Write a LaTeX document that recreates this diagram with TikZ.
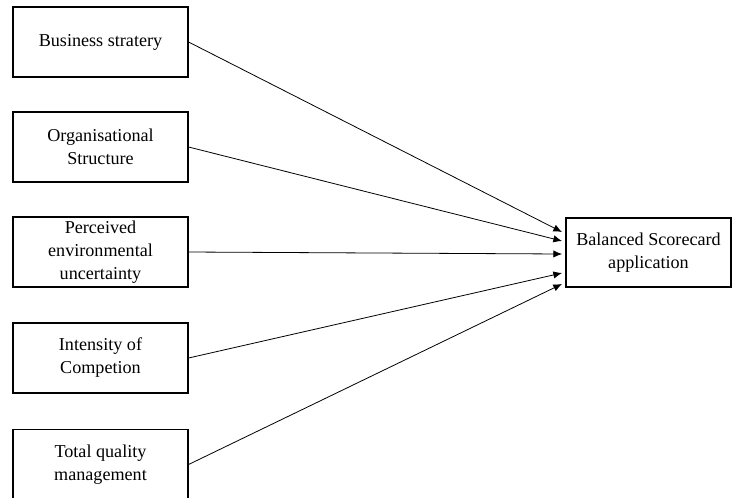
\documentclass[tikz,border=0pt]{standalone}
\usepackage{fontspec}
\setmainfont{Liberation Serif}
\usetikzlibrary{arrows.meta, positioning}

\begin{document}
\begin{tikzpicture}[x=0.75pt, y=-0.75pt,
    factor/.style={draw, line width=1.1pt, minimum width=131pt, minimum height=52.5pt,
        align=center, inner sep=0pt, font=\fontsize{13.6}{17.3}\selectfont},
    link/.style={-{Latex[length=6.5pt, width=5.5pt]}, line width=0.6pt}]
    \useasboundingbox (0,0) rectangle (732,497);
    % left column of factors
    \node[factor] (bs)  at (100.5,42)  {Business stratery};
    \node[factor] (os)  at (100.5,147) {Organisational\\Structure};
    \node[factor] (peu) at (100.5,252) {Perceived\\environmental\\uncertainty};
    \node[factor] (ic)  at (100.5,358) {Intensity of\\Competion};
    \node[factor] (tqm) at (100.5,464.5) {Total quality\\management};
    % outcome
    \node[factor, minimum width=123.75pt, minimum height=51.75pt] (bsc) at (648.5,252.5)
        {Balanced Scorecard\\application};
    % arrow ends just left of the outcome box
    \coordinate (t1) at (562,232);
    \coordinate (t2) at (562,241);
    \coordinate (t3) at (562,254);
    \coordinate (t4) at (562,273);
    \coordinate (t5) at (562,284);
    \draw[link] (bs.east)  -- (t1);
    \draw[link] (os.east)  -- (t2);
    \draw[link] (peu.east) -- (t3);
    \draw[link] (ic.east)  -- (t4);
    \draw[link] (tqm.east) -- (t5);
\end{tikzpicture}
\end{document}
